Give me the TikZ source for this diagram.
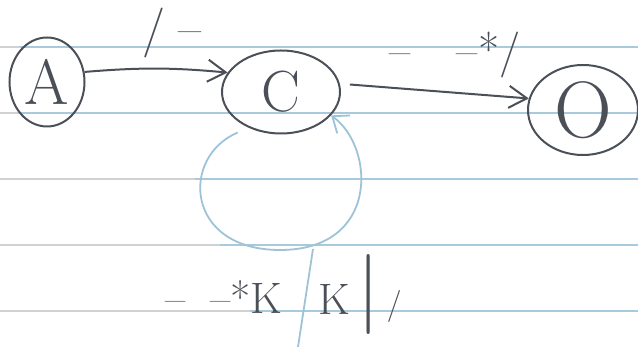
\documentclass[tikz,border=0pt]{standalone}
\usepackage{tikz}
\usetikzlibrary{shapes.geometric, arrows.meta}
\definecolor{inkgray}{HTML}{4b5058}
\definecolor{ruleblue}{HTML}{a9c9dc}
\definecolor{rulegray}{HTML}{cfd2d4}
\definecolor{penblue}{HTML}{9fc3d6}

\begin{document}
\begin{tikzpicture}[x=0.5pt, y=0.5pt,
    statenode/.style={draw=inkgray, ellipse, line width=1pt, inner sep=0pt, text=inkgray},
    inkarrow/.style={draw=inkgray, line width=1pt, -{Straight Barb[length=9pt, width=11pt]}},
    loopline/.style={draw=penblue, line width=0.9pt},
    inklabel/.style={text=inkgray, inner sep=0pt}]
  \useasboundingbox (0,0) rectangle (638,347);
  % ruled paper
  \foreach \ry in {300,234,168,102,36}
    \draw[ruleblue, line width=1pt] (0,\ry) -- (638,\ry);
  \foreach \ry/\rx in {300/20,234/20,168/195,102/220,36/250}
    \draw[rulegray, line width=1pt] (0,\ry) -- (\rx,\ry);

  \node[statenode, minimum width=37.5pt, minimum height=44.5pt, font=\fontsize{32}{32}\selectfont] (A) at (47,265) {A};
  \node[statenode, minimum width=59pt, minimum height=41.5pt, font=\fontsize{29}{29}\selectfont] (C) at (281,255) {C};
  \node[statenode, minimum width=55pt, minimum height=45pt, font=\fontsize{40}{40}\selectfont] (O) at (583,237) {O};

  \draw[inkarrow] (A.15) to[bend left=5] (C.160);
  \draw[inkarrow, shorten <=5pt] (C.8) -- (O.168);

  % self loop on C
  \coordinate (loopbot) at (280,97);
  \draw[loopline, shorten <=6pt] (C.228) .. controls (180,190) and (185,97) .. (loopbot);
  \draw[loopline, -{Straight Barb[length=7pt, width=11pt]}] (loopbot) .. controls (380,97) and (375,200) .. (C.-25);
  \coordinate (stemtop) at (313,98);
  \coordinate (stembot) at (298,0);
  \draw[loopline] (stemtop) -- (stembot);

  % labels
  \node[inklabel, font=\fontsize{25}{25}\selectfont] (aclabel) at (172,314) {/\;–};
  \node[inklabel, font=\fontsize{23}{23}\selectfont] (colabel) at (455,292) {–\quad–*/};
  \node[inklabel, font=\fontsize{22}{22}\selectfont] (looplabel) at (224,50) {–\;\;–*K};
  \node[inklabel, font=\fontsize{22}{22}\selectfont] (loopright) at (360,52) {K\,{\fontsize{40}{40}\selectfont|}\,{\fontsize{16}{16}\selectfont/}};
\end{tikzpicture}
\end{document}
